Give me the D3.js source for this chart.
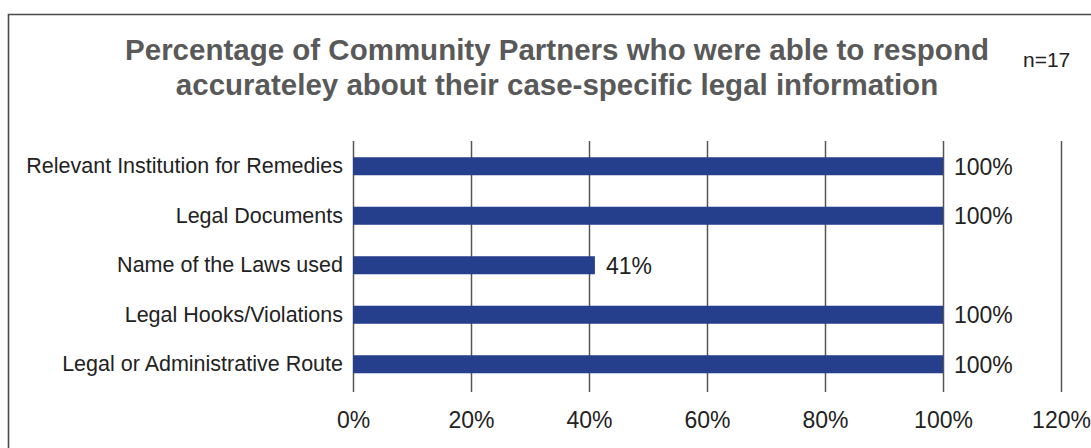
<!DOCTYPE html>
<html>
<head>
<meta charset="utf-8">
<script src="https://cdn.jsdelivr.net/npm/d3@7"></script>
<style>
  html, body { margin: 0; padding: 0; background: #fff; }
  svg { display: block; font-family: "Liberation Sans", Arial, Helvetica, sans-serif; }
</style>
</head>
<body>
<svg id="chart" width="1091" height="448"></svg>
<script>
// Survey topics, top to bottom
const categories = [
  "Relevant Institution for Remedies",
  "Legal Documents",
  "Name of the Laws used",
  "Legal Hooks/Violations",
  "Legal or Administrative Route"
];
// Share of partners answering accurately
const values = [1.00, 1.00, 0.41, 1.00, 1.00];
// Axis ticks
const ticks = [0, 0.2, 0.4, 0.6, 0.8, 1.0, 1.2];
const titleLines = [
  "Percentage of Community Partners who were able to respond",
  "accurateley about their case-specific legal information"
];
const sampleNote = "n=17";

const svg = d3.select("#chart");
const fmt = d3.format(".0%");

// Frame around the chart
svg.append("path")
  .attr("d", "M8.5,448 V14.5 H1091")
  .attr("fill", "none")
  .attr("stroke", "#4a4a4a")
  .attr("stroke-width", 1.6);

// Title
svg.append("g")
  .selectAll("text")
  .data(titleLines)
  .join("text")
  .attr("x", 557)
  .attr("y", (d, i) => 60 + i * 35)
  .attr("text-anchor", "middle")
  .attr("font-size", 29.5)
  .attr("font-weight", "bold")
  .attr("fill", "#595959")
  .text(d => d);

svg.append("text")
  .attr("x", 1023)
  .attr("y", 67)
  .attr("font-size", 21)
  .attr("fill", "#222")
  .text(sampleNote);

const x = d3.scaleLinear().domain([0, 1.2]).range([353, 1061]);
const y = d3.scaleBand().domain(categories).range([141.5, 389]).paddingInner(0.636).paddingOuter(0.318);

const gridTop = 141, gridBottom = 392;

// Vertical gridlines and percentage axis
const xAxis = d3.axisBottom(x)
  .tickValues(ticks)
  .tickFormat(fmt)
  .tickSize(-(gridBottom - gridTop))
  .tickPadding(0);

const gx = svg.append("g")
  .attr("transform", `translate(0,${gridBottom})`)
  .call(xAxis);
gx.select(".domain").remove();
gx.selectAll(".tick line")
  .attr("stroke", "#555")
  .attr("stroke-width", 1.5);
gx.selectAll(".tick text")
  .attr("y", 0)
  .attr("dy", 0)
  .attr("transform", "translate(0,36)")
  .attr("font-size", 23)
  .attr("font-family", "\"Liberation Sans\", Arial, sans-serif")
  .attr("fill", "#222");

// Category labels
const yAxis = d3.axisLeft(y).tickSize(0).tickPadding(10);
const gy = svg.append("g")
  .attr("transform", `translate(${x(0)},0)`)
  .call(yAxis);
gy.select(".domain").remove();
gy.selectAll(".tick text")
  .attr("font-size", 21.5)
  .attr("font-family", "\"Liberation Sans\", Arial, sans-serif")
  .attr("fill", "#222");

// Bars
svg.append("g")
  .selectAll("rect")
  .data(values)
  .join("rect")
  .attr("x", x(0))
  .attr("y", (d, i) => y(categories[i]))
  .attr("width", d => x(d) - x(0))
  .attr("height", y.bandwidth())
  .attr("fill", "#263f8c");

// Value labels
svg.append("g")
  .selectAll("text")
  .data(values)
  .join("text")
  .attr("x", d => x(d) + 11)
  .attr("y", (d, i) => y(categories[i]) + y.bandwidth() / 2)
  .attr("dy", "0.36em")
  .attr("font-size", 23)
  .attr("fill", "#222")
  .text(d => fmt(d));
</script>
</body>
</html>
